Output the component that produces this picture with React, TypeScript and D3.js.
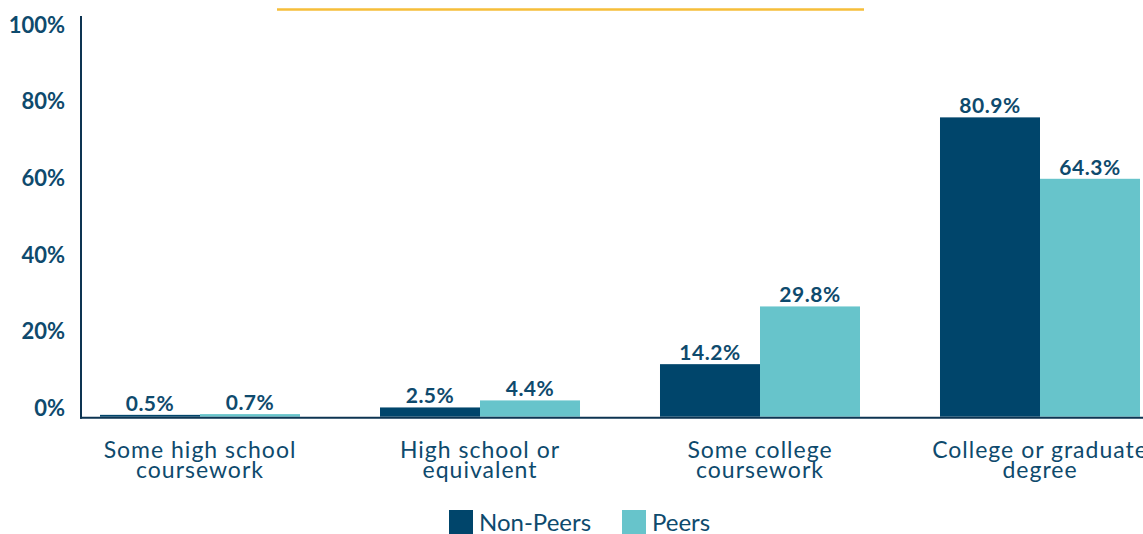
import React from "react";
import * as d3 from "d3";

const categories: string[][] = [
  ["Some high school", "coursework"],
  ["High school or", "equivalent"],
  ["Some college", "coursework"],
  ["College or graduate", "degree"],
];
const seriesNames = ["Non-Peers", "Peers"];
const nonPeers = [0.5, 2.5, 14.2, 80.9];
const peers = [0.7, 4.4, 29.8, 64.3];
const yTicks = [0, 20, 40, 60, 80, 100];

const W = 1143;
const H = 534;
const colors = ["#00456B", "#67C4CB"];
const textColor = "#0E4A6D";
const axisColor = "#0D3452";
const FONT = "Lato, 'Open Sans', sans-serif";

export default function App() {
  const keys = categories.map((c) => c.join(" "));
  const x0 = d3.scaleBand<string>().domain(keys).range([100, 1140]).paddingInner(0.2857).paddingOuter(0);
  const x1 = d3.scaleBand<string>().domain(seriesNames).range([0, x0.bandwidth()]).padding(0);
  const yBar = d3.scaleLinear().domain([0, 100]).range([416.7, 46.7]);
  const yLabel = d3.scaleLinear().domain([0, 100]).range([407.5, 24]);
  const series = [nonPeers, peers];

  return (
    <svg width={W} height={H} style={{ position: "absolute", left: 0, top: 0, fontFamily: FONT }}>
      <rect x={0} y={0} width={W} height={H} fill="#ffffff" />
      <line x1={277} x2={864} y1={9.5} y2={9.5} stroke="#F6BE3A" strokeWidth={2.5} />
      {yTicks.map((t) => (
        <text key={t} x={65} y={yLabel(t)} textAnchor="end" dominantBaseline="central" fontSize={22} fontWeight={700} fill={textColor}>
          {t}%
        </text>
      ))}
      {keys.map((k, i) => (
        <g key={k} transform={`translate(${x0(k)},0)`}>
          {seriesNames.map((s, j) => {
            const v = series[j][i];
            const bx = x1(s)!;
            const bw = x1.bandwidth();
            return (
              <g key={s}>
                <rect x={bx} y={yBar(v)} width={bw} height={yBar(0) - yBar(v)} fill={colors[j]} />
                <text x={bx + bw / 2} y={yBar(v) - 4} textAnchor="middle" fontSize={21} fontWeight={700} letterSpacing={0.5} fill={textColor}>
                  {v.toFixed(1)}%
                </text>
              </g>
            );
          })}
          {categories[i].map((line, li) => (
            <text key={li} x={x0.bandwidth() / 2} y={458 + li * 19.5} textAnchor="middle" fontSize={23} letterSpacing={1} fill={textColor}>
              {line}
            </text>
          ))}
        </g>
      ))}
      <line x1={81} x2={81} y1={16} y2={418.7} stroke={axisColor} strokeWidth={2} />
      <line x1={80} x2={W} y1={417.7} y2={417.7} stroke={axisColor} strokeWidth={2} />
      {seriesNames.map((s, j) => {
        const lx = [449, 622][j];
        return (
          <g key={s}>
            <rect x={lx} y={510} width={24} height={24} fill={colors[j]} />
            <text x={lx + 30} y={531} fontSize={24} fill={textColor}>
              {s}
            </text>
          </g>
        );
      })}
    </svg>
  );
}
